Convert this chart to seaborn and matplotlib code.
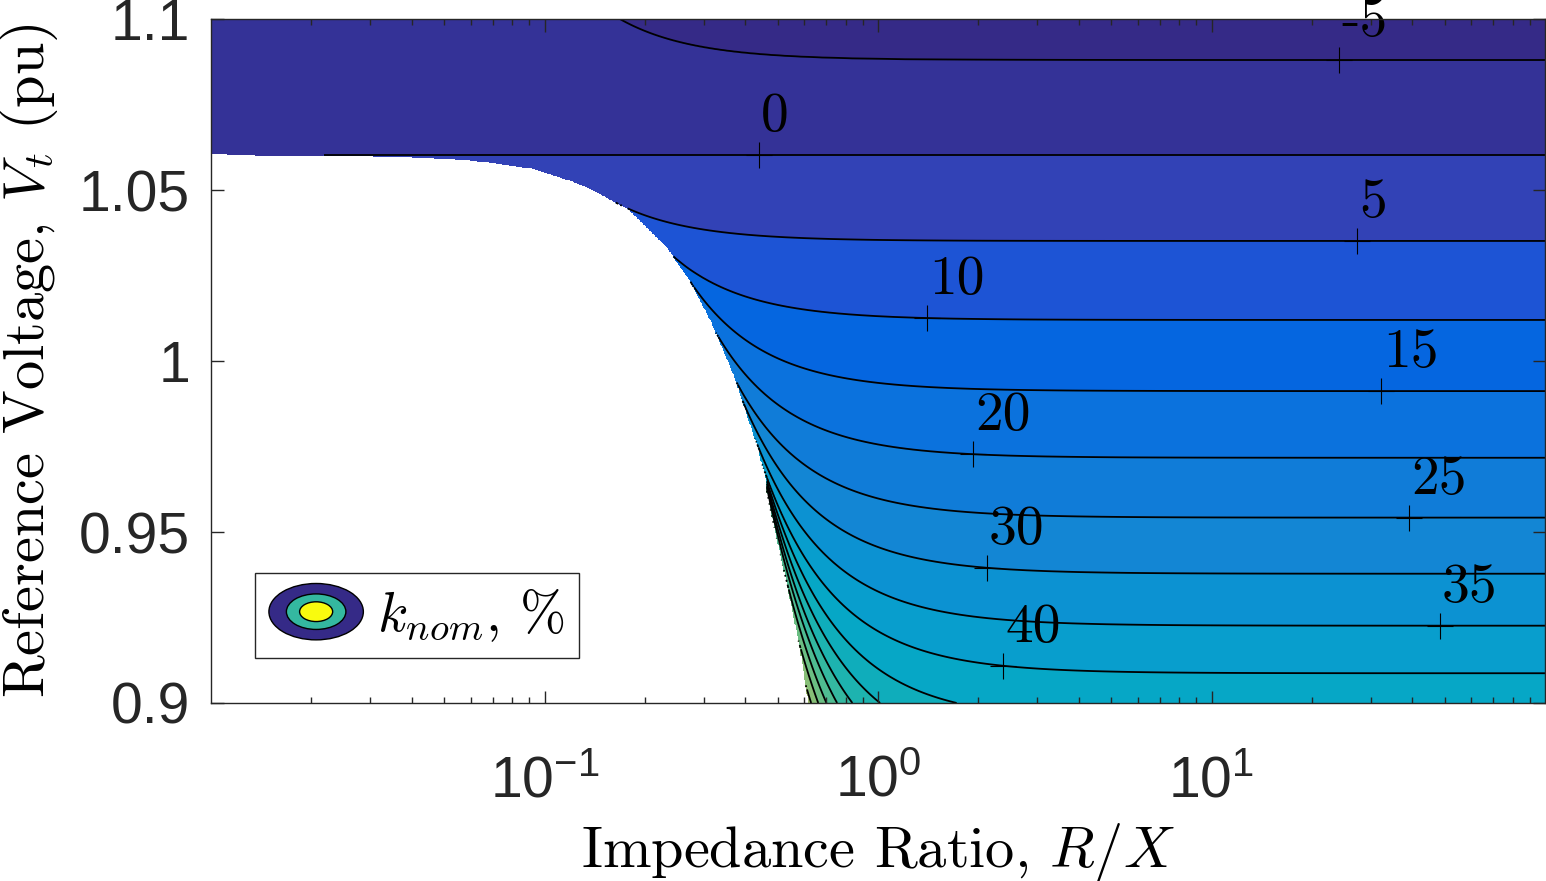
import numpy as np
import matplotlib
matplotlib.use("Agg")
import matplotlib.pyplot as plt
import seaborn as sns
from matplotlib.colors import LinearSegmentedColormap
from matplotlib.legend_handler import HandlerBase
from matplotlib.patches import Ellipse
from matplotlib.lines import Line2D
from matplotlib.ticker import FixedLocator, LogLocator, NullFormatter, LogFormatterSciNotation

# k_nom contour levels (%) and the voltage each one settles to at large R/X
levels = [-5, 0, 5, 10, 15, 20, 25, 30, 35, 40, 45, 50, 55, 60, 65, 70, 75, 80, 85, 90]
v_far = [1.0880, 1.0602, 1.0351, 1.0120, 0.9912, 0.9717, 0.9542, 0.9378, 0.9226, 0.9087,
         0.8949, 0.8830, 0.8718, 0.8613, 0.8513, 0.8418, 0.8328, 0.8243, 0.8163, 0.8088]
# how far each contour bends up at small R/X, read as (V - v_far) * (R/X)^2
bend = [0.00034, 0.0, 0.0003, 0.0011, 0.0024, 0.0039, 0.0056, 0.0078, 0.0100, 0.0123,
        0.0151, 0.0175, 0.0198, 0.0220, 0.0239, 0.0255, 0.0267, 0.0275, 0.0280, 0.0284]

# lower edge of the solved region (white below it)
edge_rx = [0.01, 0.0185, 0.037, 0.059, 0.092, 0.117, 0.147, 0.177, 0.233, 0.279,
           0.314, 0.367, 0.438, 0.480, 0.532, 0.584, 0.62]
edge_v = [1.0606, 1.0598, 1.0596, 1.0588, 1.0563, 1.0529, 1.0480, 1.0447, 1.0333, 1.0216,
          1.0120, 0.9965, 0.9740, 0.9545, 0.9350, 0.9155, 0.8990]

# where clabel put its "+" marks
label_levels = [-5, 0, 5, 10, 15, 20, 25, 30, 35, 40]
label_rx = [24.1, 0.44, 27.3, 1.40, 32.2, 1.93, 39.1, 2.12, 48.4, 2.37]

yticks = [0.9, 0.95, 1.0, 1.05, 1.1]
ytick_labels = ["0.9", "0.95", "1", "1.05", "1.1"]

# MATLAB parula, sampled
parula = [(0 / 63, (0.2081, 0.1663, 0.5292)), (4 / 63, (0.1959, 0.2645, 0.7279)),
          (6 / 63, (0.1253, 0.3242, 0.8303)), (8 / 63, (0.0117, 0.3875, 0.8820)),
          (12 / 63, (0.0498, 0.4586, 0.8641)), (16 / 63, (0.0793, 0.5200, 0.8312)),
          (20 / 63, (0.0343, 0.5966, 0.8199)), (24 / 63, (0.0228, 0.6535, 0.7768)),
          (28 / 63, (0.0843, 0.6928, 0.7062)), (32 / 63, (0.2178, 0.7250, 0.6193)),
          (36 / 63, (0.3953, 0.7459, 0.5244)), (40 / 63, (0.5709, 0.7485, 0.4494)),
          (44 / 63, (0.7184, 0.7411, 0.3905)), (48 / 63, (0.8507, 0.7299, 0.3360)),
          (52 / 63, (0.9739, 0.7314, 0.2666)), (56 / 63, (0.9880, 0.8066, 0.1794)),
          (60 / 63, (0.9589, 0.8949, 0.1132)), (63 / 63, (0.9763, 0.9831, 0.0538))]
cmap = LinearSegmentedColormap.from_list("parula", parula)

sns.set_theme(style="ticks")
plt.rcParams["font.family"] = ["Liberation Sans", "DejaVu Sans"]
plt.rcParams["mathtext.fontset"] = "cm"
plt.rcParams["axes.edgecolor"] = "#262626"
plt.rcParams["axes.linewidth"] = 1.0

# build k_nom over the grid from the contour family
lev = np.array(levels, float)
k_fine = np.unique(np.concatenate([np.arange(-5, 5, 0.02), np.arange(5, 90.001, 0.25)]))
v_fine = np.interp(k_fine, lev, v_far)
s_fine = np.interp(k_fine, lev, np.sqrt(bend))

rx = np.logspace(-2, 2, 1100)
vt = np.linspace(0.9, 1.1, 800)
H = v_fine[None, :] + s_fine[None, :] ** 2 / rx[:, None] ** 2

K = np.full((vt.size, rx.size), np.nan)
for j in range(rx.size):
    h = H[j]
    rising = np.nonzero(np.diff(h) >= 0)[0]
    stop = rising[0] + 1 if rising.size else h.size
    h, kk = h[:stop], k_fine[:stop]
    col = np.interp(vt, h[::-1], kk[::-1], left=np.nan, right=np.nan)
    above = vt > h[0]
    col[above] = -5 - (vt[above] - h[0]) * 100
    K[:, j] = col

edge = np.interp(np.log10(rx), np.log10(edge_rx), edge_v)
K[vt[:, None] < edge[None, :]] = np.nan
K = np.ma.masked_invalid(K)


class ContourIcon(HandlerBase):
    def create_artists(self, legend, orig_handle, xdescent, ydescent, width, height, fontsize, trans):
        cx = -xdescent + width / 2
        cy = -ydescent + height / 2
        out = []
        for scale, col in [(1.0, cmap(0.0)), (0.63, cmap(0.5)), (0.35, cmap(1.0))]:
            e = Ellipse((cx, cy), width * scale, height * 1.45 * scale, facecolor=col,
                        edgecolor="black", linewidth=1.0, transform=trans)
            out.append(e)
        return out


fig = plt.figure(figsize=(15.46, 8.81), dpi=100)
ax = fig.add_axes([211 / 1546, 1 - 703 / 881, 1334 / 1546, 684 / 881])
ax.set_xscale("log")

ax.contourf(rx, vt, K, levels=levels, cmap=cmap, vmin=-5, vmax=120, extend="both")
ax.contour(rx, vt, K, levels=levels, colors="black", linewidths=1.3,
           negative_linestyles="solid")

# clabel style marks and numbers
lab_v = [v_far[levels.index(k)] + bend[levels.index(k)] / r ** 2 for k, r in zip(label_levels, label_rx)]
ax.plot(label_rx, lab_v, ls="none", marker="+", ms=19, mew=0.8, color="black", zorder=4)
for k, r, v in zip(label_levels, label_rx, lab_v):
    ax.annotate(str(k), (r, v), xytext=(1.5, 27), textcoords="offset points",
                ha="left", va="center", fontsize=40, family="cmr10", color="black",
                zorder=5, annotation_clip=False)

ax.set_xlim(0.01, 100)
ax.set_ylim(0.9, 1.1)
ax.xaxis.set_major_locator(FixedLocator([0.1, 1, 10]))
ax.xaxis.set_major_formatter(LogFormatterSciNotation())
ax.xaxis.set_minor_locator(LogLocator(base=10, subs=np.arange(2, 10)))
ax.xaxis.set_minor_formatter(NullFormatter())
ax.set_yticks(yticks)
ax.set_yticklabels(ytick_labels)
ax.set_axisbelow(False)
ax.tick_params(which="both", direction="in", top=True, right=True, color="#262626", width=1.0)
ax.tick_params(which="major", length=9, labelsize=41, labelcolor="#262626")
ax.tick_params(which="minor", length=4.5)
ax.tick_params(axis="y", pad=15)
ax.tick_params(axis="x", pad=37)
for sp in ax.spines.values():
    sp.set_visible(True)
    sp.set_zorder(6)

ax.set_xlabel(r"Impedance Ratio, $R/X$", family="cmr10", fontsize=42, color="black")
ax.set_ylabel(r"Reference Voltage, $V_t$ (pu)", family="cmr10", fontsize=42, color="black")
ax.xaxis.set_label_coords(0.5, -0.172)
ax.yaxis.set_label_coords(-0.113, 0.5)

proxy = Line2D([], [])
leg = ax.legend([proxy], [r"$k_{nom}$, %"], handler_map={proxy: ContourIcon()},
                loc="lower left", bbox_to_anchor=(0.033, 0.066), borderaxespad=0,
                prop={"family": "cmr10", "size": 40}, fancybox=False, framealpha=1,
                edgecolor="#262626", borderpad=0.25, handlelength=1.7, handleheight=0.7,
                handletextpad=0.25)
leg.get_frame().set_linewidth(1.0)
leg.get_texts()[0].set_color("black")
leg.set_zorder(7)

fig.savefig("out.png", dpi=100)
